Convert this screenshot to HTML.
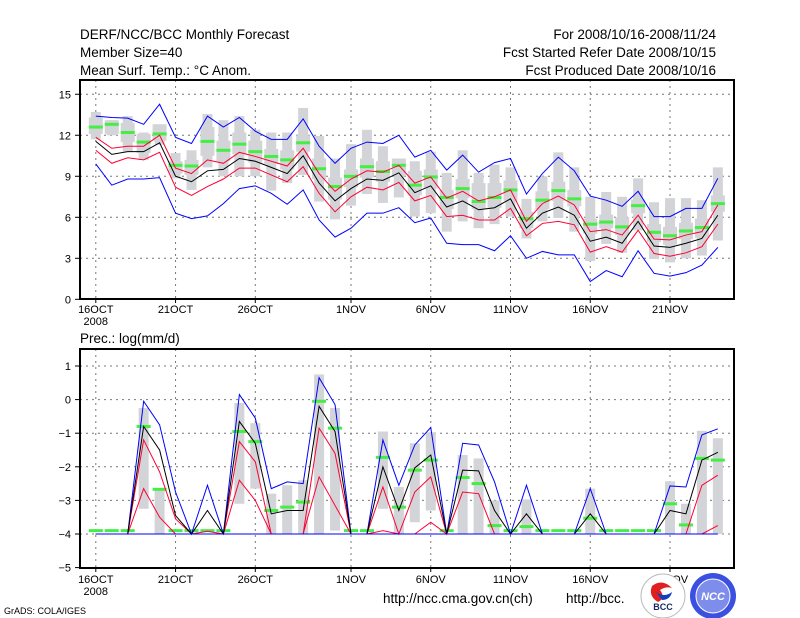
<!DOCTYPE html>
<html><head><meta charset="utf-8"><style>
body{margin:0;background:#fff;}
svg{display:block;font-family:"Liberation Sans",sans-serif;}
</style></head><body>
<svg id="c" width="800" height="618" xmlns="http://www.w3.org/2000/svg">
<g font-size="13.5" fill="#000">
<text x="80" y="39">DERF/NCC/BCC Monthly Forecast</text>
<text x="80" y="57">Member Size=40</text>
<text x="80" y="75">Mean Surf. Temp.: °C Anom.</text>
<text x="716" y="39" text-anchor="end">For 2008/10/16-2008/11/24</text>
<text x="716" y="57" text-anchor="end">Fcst Started Refer Date 2008/10/15</text>
<text x="716" y="75" text-anchor="end">Fcst Produced Date 2008/10/16</text>
<text x="80" y="343">Prec.: log(mm/d)</text>
<text x="383" y="603">http://ncc.cma.gov.cn(ch)</text>
<text x="566" y="603">http://bcc.</text>
<text x="4" y="614" font-size="9">GrADS: COLA/IGES</text>
</g>
<g id="top"></g><g id="bot"></g>
<g>
<circle cx="663" cy="596" r="22" fill="#fff" stroke="#bbb"/>
<path d="M652 586 q10 -8 20 2 q-6 -2 -12 2 q6 8 -2 12 q-10 -6 -6 -16z" fill="#e02020"/>
<path d="M656 592 q8 6 16 0 q-2 8 -10 8 z" fill="#1040c0"/>
<text x="663" y="610" font-size="9" font-weight="bold" text-anchor="middle" fill="#1a2a60">BCC</text>
</g>
<g>
<circle cx="713" cy="596" r="23" fill="#3a50e0"/>
<circle cx="713" cy="596" r="17" fill="#fff" fill-opacity="0.35" stroke="#fff"/>
<text x="713" y="600" font-size="11" font-weight="bold" font-style="italic" text-anchor="middle" fill="#fff">NCC</text>
</g>
</svg>
<script>
const days=["16OCT","21OCT","26OCT","1NOV","6NOV","11NOV","16NOV","21NOV"];
const dayIdx=[0,5,10,16,21,26,31,36];
// Temperature panel
const tBlueHi=[13.4,13.3,13.25,12.8,14.27,11.85,11.4,13.4,12.6,13.3,12.3,11.7,11.7,13.2,11.2,9.95,11.05,11.5,11.4,12.0,10.4,10.9,9.45,10.55,9.3,10.0,10.3,7.7,9.2,10.4,9.4,7.55,7.25,6.8,7.9,6.05,6.05,6.65,6.65,8.85];
const tRedHi=[11.85,11.05,11.2,11.2,12.0,9.6,9.2,10.2,9.95,10.75,10.45,10.1,9.75,11.05,9.2,7.9,8.8,9.4,9.3,9.8,8.5,8.95,7.4,7.9,7.2,7.5,8.0,5.7,7.0,7.55,6.9,4.95,5.1,4.7,6.15,4.4,4.35,4.7,4.95,6.9];
const tMean=[11.55,10.6,10.8,10.8,11.45,9.0,8.6,9.4,9.5,10.3,10.1,9.65,9.2,10.5,8.5,7.2,8.1,8.8,8.7,9.25,7.8,8.3,6.75,7.2,6.55,6.7,7.35,5.2,6.3,6.75,6.15,4.25,4.55,4.1,5.7,3.9,3.8,4.1,4.45,6.15];
const tRedLo=[10.9,9.95,10.35,10.2,10.75,8.2,7.6,8.25,8.8,9.6,9.6,9.1,8.6,9.7,7.75,6.4,7.5,8.2,8.0,8.55,7.2,7.6,6.05,6.15,5.8,5.8,6.65,4.65,5.55,5.7,5.45,3.45,3.85,3.45,5.05,3.35,3.15,3.4,3.85,5.5];
const tBlueLo=[9.9,8.35,8.8,8.8,8.9,6.3,5.9,6.1,7.0,8.1,8.3,7.75,6.95,8.0,5.8,4.55,5.2,6.3,6.3,6.7,5.6,5.95,4.1,4.0,4.0,3.55,4.65,3.0,3.5,3.25,3.25,1.3,2.1,1.65,3.55,1.9,1.7,1.95,2.5,3.8];
const tGreen=[12.6,12.8,12.2,11.5,12.1,9.8,9.75,11.55,10.9,11.35,10.8,10.45,10.2,11.45,9.55,8.25,9.0,9.7,9.35,9.8,8.35,8.95,7.45,8.1,7.15,7.45,8.0,5.9,7.25,7.95,7.35,5.5,5.65,5.3,6.85,4.9,4.65,5.0,5.25,7.0];
const tMax=[13.7,13.1,13.4,12.2,12.8,10.7,10.9,13.55,13.1,13.4,12.4,12.2,12.2,14.0,11.95,10.3,11.35,12.4,11.2,10.25,10.1,10.8,9.25,10.9,9.25,9.85,9.65,7.35,9.0,10.75,9.65,7.5,7.85,7.5,8.85,7.1,7.4,7.4,7.25,9.65];
const tMin=[11.7,12.0,10.8,10.2,11.3,8.85,8.0,9.65,9.0,9.0,9.0,7.95,8.5,9.1,7.15,5.85,6.85,7.7,7.05,7.45,6.05,6.3,4.95,5.7,5.2,5.5,6.05,4.45,5.7,5.95,4.95,2.8,4.05,3.4,5.05,2.95,2.7,3.0,3.2,4.3];
const tBoxHi=[13.3,13.1,12.9,12.1,12.8,10.1,10.2,12.6,11.6,12.2,11.6,11.0,10.9,12.0,10.3,8.9,9.5,10.3,10.1,10.3,9.4,9.5,8.0,8.8,8.5,8.5,8.7,6.4,7.9,8.6,8.0,5.9,6.2,6.0,7.3,5.5,5.3,5.6,5.9,7.6];
const tBoxLo=[12.1,12.1,11.5,10.7,11.6,9.2,9.1,10.5,10.1,10.6,10.0,9.9,9.5,10.8,8.8,7.3,8.2,8.9,8.6,9.0,7.6,8.1,6.6,7.4,6.6,6.7,7.2,5.2,6.6,7.2,6.8,4.8,5.2,4.7,6.3,4.2,4.0,4.4,4.5,6.4];
const tTicks=[0,3,6,9,12,15];
// Precipitation panel
const pBlueHi=[-4,-4,-4,-0.05,-0.75,-2.75,-4,-2.55,-4,0.15,-0.55,-2.65,-2.45,-2.5,0.65,-0.15,-4,-4,-1.2,-2.55,-1.35,-0.83,-4,-1.3,-1.35,-2.45,-4,-2.55,-4,-4,-4,-2.65,-4,-4,-4,-4,-2.57,-2.6,-1.05,-0.87];
const pMean=[-4,-4,-4,-0.8,-1.5,-3.45,-4,-3.3,-4,-0.65,-1.3,-3.4,-3.3,-3.3,-0.2,-0.95,-4,-4,-2.0,-3.3,-2.03,-1.65,-4,-2.1,-2.12,-3.3,-4,-3.4,-4,-4,-4,-3.4,-4,-4,-4,-4,-3.3,-3.4,-1.8,-1.57];
const pRedHi=[-4,-4,-4,-1.2,-2.15,-3.55,-4,-3.92,-4,-1.25,-1.85,-4,-4,-4,-0.85,-1.6,-4,-4,-2.6,-4,-2.75,-2.3,-4,-2.75,-2.8,-4,-4,-4,-4,-4,-4,-4,-4,-4,-4,-4,-4,-4,-2.55,-2.25];
const pRedLo=[-4,-4,-4,-2.65,-3.5,-4,-4,-4,-4,-2.4,-3.0,-4,-4,-4,-2.3,-3.15,-4,-4,-3.9,-4,-4,-3.65,-4,-4,-4,-4,-4,-4,-4,-4,-4,-4,-4,-4,-4,-4,-4,-4,-4,-3.75];
const pBlueLo=[-4,-4,-4,-4,-4,-4,-4,-4,-4,-4,-4,-4,-4,-4,-4,-4,-4,-4,-4,-4,-4,-4,-4,-4,-4,-4,-4,-4,-4,-4,-4,-4,-4,-4,-4,-4,-4,-4,-4,-4];
const pGreen=[-3.9,-3.9,-3.9,-0.8,-2.67,-3.9,-3.9,-3.9,-3.9,-0.95,-1.25,-3.3,-3.2,-3.05,-0.05,-0.85,-3.9,-3.9,-1.72,-3.2,-2.1,-1.8,-3.9,-2.32,-2.5,-3.75,-3.9,-3.78,-3.9,-3.9,-3.9,-3.53,-3.9,-3.9,-3.9,-3.9,-3.1,-3.73,-1.75,-1.8];
const pMax=[-4,-4,-4,-0.25,-2.65,-4,-4,-4,-4,-0.1,-0.7,-2.8,-2.55,-2.4,0.75,-0.25,-4,-4,-0.95,-2.6,-1.3,-0.97,-4,-1.65,-1.75,-3.0,-4,-2.97,-4,-4,-4,-2.65,-4,-4,-4,-4,-2.43,-3.1,-0.93,-1.15];
const pMin=[-4,-4,-4,-3.25,-4,-4,-4,-4,-4,-3.1,-2.65,-4,-4,-4,-4,-3.9,-4,-4,-3.25,-4,-3.65,-3.3,-4,-4,-4,-4,-4,-4,-4,-4,-4,-4,-4,-4,-4,-4,-4,-4,-4,-4];
const pTicks=[-5,-4,-3,-2,-1,0,1];

const NS="http://www.w3.org/2000/svg";
const X0=80,X1=734;
const xd=d=>95.8+d*15.95;
function mk(p,tag,at){const e=document.createElementNS(NS,tag);for(const k in at)e.setAttribute(k,at[k]);p.appendChild(e);return e;}
function panel(g,top,bot,y,ticks,axisLabelY,withYear){
  ticks.forEach(t=>{const yy=y(t);
    if(yy>top+2&&yy<bot-2){const l=mk(g,'line',{x1:X0,x2:X1,y1:yy,y2:yy,stroke:'#777','stroke-dasharray':'2,4','stroke-width':1});
    
    }
    const tk=mk(g,'line',{x1:X0-5,x2:X0,y1:yy,y2:yy,stroke:'#000'});
    
    
    const tx=mk(g,'text',{x:X0-9,y:yy+4,'font-size':11,'text-anchor':'end'});tx.textContent=String(t).replace('-','\u2212');
    
    
  });
  dayIdx.forEach((d,i)=>{const xx=xd(d);
    const l=mk(g,'line',{x1:xx,x2:xx,y1:top,y2:bot,stroke:'#777','stroke-dasharray':'2,4'});
    
    
    const tk=mk(g,'line',{x1:xx,x2:xx,y1:bot,y2:bot+4,stroke:'#000'});
    
    
    const tx=mk(g,'text',{x:xx,y:axisLabelY,'font-size':11,'text-anchor':'middle'});tx.textContent=days[i];
    
    
  });
  if(withYear){const t=mk(g,'text',{x:xd(0),y:axisLabelY+12,'font-size':11,'text-anchor':'middle'});t.textContent='2008';
    
    }
}
function bars(g,y,mx,mn,bh,bl){
  for(let d=0;d<mx.length;d++){const xx=xd(d);
    if(mx[d]>mn[d]+0.01){const r=mk(g,'rect',{x:xx-5,width:10,y:y(mx[d]),height:y(mn[d])-y(mx[d]),fill:'#d3d4d8'});
      
      }
    if(bh){const b=mk(g,'rect',{x:xx-7,width:14,y:y(bh[d]),height:y(bl[d])-y(bh[d]),fill:'#d3d4d8'});
      
      }
  }
}
function greens(g,y,v){for(let d=0;d<v.length;d++){const r=mk(g,'rect',{x:xd(d)-7,width:14,y:y(v[d])-1.5,height:3,fill:'#44ee44'});
  
  }}
function line(g,y,v,c,name){const p=mk(g,'polyline',{points:v.map((a,d)=>xd(d)+','+y(a)).join(' '),fill:'none',stroke:c,'stroke-width':1});
  
  }
function frame(g,top,bot,name){const r=mk(g,'rect',{x:X0,y:top,width:X1-X0,height:bot-top,fill:'none',stroke:'#000','stroke-width':2});
  
  }

const gt=document.getElementById('top');


const yT=v=>299.3-v*13.67;
panel(gt,80,299,yT,tTicks,313,true);
bars(gt,yT,tMax,tMin,tBoxHi,tBoxLo);
greens(gt,yT,tGreen);
line(gt,yT,tBlueHi,'#0000ff','temp-upper-blue');
line(gt,yT,tBlueLo,'#0000ff','temp-lower-blue');
line(gt,yT,tRedHi,'#ff0033','temp-upper-red');
line(gt,yT,tRedLo,'#ff0033','temp-lower-red');
line(gt,yT,tMean,'#000','temp-mean-line');
frame(gt,80,299,'temperature-frame');

const gb=document.getElementById('bot');


const yP=v=>366+(1-v)*33.6;
panel(gb,349,568,yP,pTicks,583,true);
bars(gb,yP,pMax,pMin,null,null);
greens(gb,yP,pGreen);
line(gb,yP,pRedLo,'#ff0033','prec-lower-red');
line(gb,yP,pRedHi,'#ff0033','prec-upper-red');
line(gb,yP,pBlueHi,'#0000ff','prec-upper-blue');
line(gb,yP,pMean,'#000','prec-mean-line');
line(gb,yP,pBlueLo,'#0000ff','prec-lower-blue');
frame(gb,349,568,'precipitation-frame');
</script>
</body></html>
